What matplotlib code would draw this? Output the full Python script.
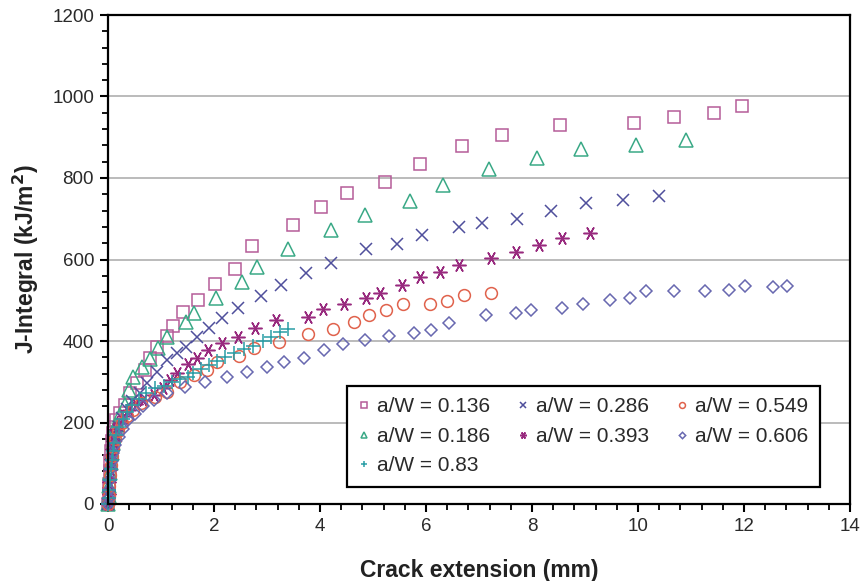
import matplotlib
matplotlib.use("Agg")
import matplotlib.pyplot as plt
from matplotlib.ticker import MultipleLocator

plt.rcParams['font.family'] = ['Liberation Sans', 'DejaVu Sans']

labels = ["a/W = 0.136", "a/W = 0.186", "a/W = 0.286", "a/W = 0.393",
          "a/W = 0.549", "a/W = 0.606", "a/W = 0.83"]

x_136 = [0, 0.01, 0.02, 0.03, 0.04, 0.05, 0.07, 0.09, 0.12, 0.16, 0.23, 0.32, 0.42, 0.54, 0.69, 0.79,
         0.92, 1.11, 1.23, 1.42, 1.70, 2.01, 2.39, 2.71, 3.49, 4.02, 4.51, 5.23, 5.89, 6.68, 7.44,
         8.52, 9.92, 10.67, 11.44, 11.96]
y_136 = [0, 25, 50, 80, 105, 130, 155, 175, 190, 205, 223, 243, 272, 296, 329, 358,
         385, 412, 438, 470, 501, 540, 576, 633, 685, 730, 764, 791, 834, 879, 906,
         930, 934, 950, 960, 977]

x_186 = [0, 0.01, 0.02, 0.03, 0.05, 0.07, 0.09, 0.12, 0.16, 0.23, 0.32, 0.40, 0.48, 0.65, 0.79, 0.95,
         1.11, 1.47, 1.63, 2.04, 2.53, 2.81, 3.39, 4.21, 4.84, 5.69, 6.32, 7.18, 8.10, 8.93, 9.97, 10.90]
y_186 = [0, 20, 45, 75, 100, 125, 150, 172, 195, 218, 243, 280, 311, 335, 357, 382,
         411, 447, 468, 506, 546, 582, 625, 672, 709, 744, 784, 822, 848, 871, 881, 893]

x_286 = [0, 0.01, 0.02, 0.04, 0.06, 0.08, 0.11, 0.15, 0.20, 0.27, 0.35, 0.45, 0.60, 0.73, 0.92, 1.11,
         1.31, 1.47, 1.67, 1.90, 2.15, 2.46, 2.88, 3.26, 3.74, 4.21, 4.86, 5.45, 5.92, 6.63, 7.05,
         7.71, 8.35, 9.01, 9.71, 10.40]
y_286 = [0, 20, 45, 70, 95, 120, 145, 168, 190, 212, 232, 252, 272, 296, 325, 353,
         370, 386, 409, 432, 456, 480, 511, 537, 568, 592, 625, 639, 660, 680, 690,
         700, 720, 739, 746, 757]

x_393 = [0, 0.01, 0.02, 0.03, 0.05, 0.07, 0.09, 0.12, 0.16, 0.22, 0.30, 0.40, 0.52, 0.66, 0.86, 1.04,
         1.17, 1.31, 1.50, 1.67, 1.88, 2.15, 2.46, 2.78, 3.17, 3.78, 4.05, 4.46, 4.87, 5.14, 5.54,
         5.88, 6.27, 6.62, 7.22, 7.70, 8.13, 8.56, 9.09]
y_393 = [0, 25, 55, 85, 110, 135, 155, 170, 185, 200, 215, 230, 245, 255, 267, 284,
         304, 322, 343, 359, 378, 395, 411, 431, 452, 458, 478, 492, 505, 519, 537,
         558, 570, 587, 603, 619, 636, 652, 665]

x_549 = [0, 0.01, 0.02, 0.03, 0.05, 0.07, 0.10, 0.14, 0.19, 0.26, 0.35, 0.47, 0.63, 0.89, 1.11, 1.36,
         1.63, 1.86, 2.05, 2.48, 2.76, 3.23, 3.77, 4.24, 4.65, 4.93, 5.24, 5.56, 6.08, 6.40, 6.71, 7.22]
y_549 = [0, 20, 45, 70, 95, 118, 140, 160, 180, 200, 215, 230, 247, 263, 276, 300,
         317, 329, 349, 364, 382, 397, 416, 429, 446, 464, 476, 490, 490, 499, 513, 517]

x_606 = [0, 0.01, 0.02, 0.03, 0.05, 0.07, 0.10, 0.14, 0.20, 0.28, 0.38, 0.50, 0.66, 0.86, 1.11, 1.45,
         1.83, 2.24, 2.62, 3.00, 3.33, 3.69, 4.08, 4.43, 4.84, 5.31, 5.77, 6.10, 6.44, 7.14, 7.69,
         7.99, 8.57, 8.97, 9.48, 9.84, 10.16, 10.68, 11.26, 11.72, 12.02, 12.54, 12.81]
y_606 = [0, 15, 35, 60, 85, 105, 125, 145, 165, 185, 205, 222, 240, 255, 272, 288,
         299, 311, 323, 335, 348, 358, 378, 392, 402, 413, 420, 427, 445, 464, 468,
         476, 480, 491, 501, 505, 523, 523, 523, 525, 534, 532, 535]

x_83 = [0, 0.01, 0.02, 0.03, 0.05, 0.07, 0.09, 0.12, 0.16, 0.21, 0.28, 0.36, 0.46, 0.58, 0.72, 0.88,
        1.05, 1.20, 1.36, 1.50, 1.61, 1.76, 1.90, 2.05, 2.21, 2.37, 2.56, 2.74, 2.92, 3.08, 3.24, 3.40]
y_83 = [0, 15, 35, 60, 85, 108, 130, 150, 170, 190, 208, 225, 242, 258, 272, 285,
        290, 300, 306, 312, 321, 331, 341, 351, 361, 371, 380, 388, 400, 411, 422, 429]

series = [
    (x_136, y_136, 's', '#b55c98', 9),
    (x_186, y_186, '^', '#3aa986', 9.5),
    (x_286, y_286, 'x', '#4f4f9c', 9),
    (x_393, y_393, (6, 2, 90), '#982a7e', 10),
    (x_549, y_549, 'o', '#e0624c', 8.5),
    (x_606, y_606, 'D', '#6868b0', 6.5),
    (x_83, y_83, '+', '#2a9ea6', 10),
]

fig = plt.figure(figsize=(8.63, 5.81), dpi=100)
ax = fig.add_axes([108/863, 1-504/581, (850-108)/863, (504-15)/581])

handles = []
for (xs, ys, m, c, ms), lab in zip(series, labels):
    h, = ax.plot(xs, ys, linestyle='none', marker=m, markersize=ms,
                 markerfacecolor='none', markeredgecolor=c, markeredgewidth=1.1,
                 label=lab, clip_on=False)
    handles.append(h)

ax.set_xlim(0, 14)
ax.set_ylim(0, 1200)
ax.xaxis.set_major_locator(MultipleLocator(2))
ax.xaxis.set_minor_locator(MultipleLocator(0.4))
ax.yaxis.set_major_locator(MultipleLocator(200))
ax.yaxis.set_minor_locator(MultipleLocator(40))
ax.tick_params(which='major', direction='out', length=6, width=1.5, labelsize=13.5,
               colors='black', labelcolor='#2a2a2a', pad=4)
ax.tick_params(which='minor', direction='out', length=4, width=1.3, colors='black')
ax.grid(axis='y', which='major', color='#a8a8a8', linewidth=1.1)
ax.set_axisbelow(True)
for s in ax.spines.values():
    s.set_linewidth(1.6)
    s.set_color('black')

ax.set_xlabel('Crack extension (mm)', fontsize=16.5, fontweight='bold', labelpad=17, color='#222222')
ax.set_ylabel('J-Integral (kJ/m$^\\mathbf{2}$)', fontsize=16.5, fontweight='bold', labelpad=8, color='#222222')

order = [0, 1, 6, 2, 3, 4, 5]
leg = fig.legend([handles[i] for i in order], [labels[i] for i in order],
                 loc='upper left', bbox_to_anchor=(347/863, 1-386/581, (820-347)/863, 0.0),
                 mode='expand', ncol=3, fontsize=15, frameon=True, fancybox=False,
                 markerscale=0.5, handlelength=0.5, handletextpad=0.4, labelspacing=0.5,
                 borderpad=0.55, borderaxespad=0.0, columnspacing=1.0, labelcolor='#2a2a2a')
leg.get_frame().set_edgecolor('black')
leg.get_frame().set_linewidth(1.6)
leg.get_frame().set_alpha(1)

fig.savefig('out.png', dpi=100)
